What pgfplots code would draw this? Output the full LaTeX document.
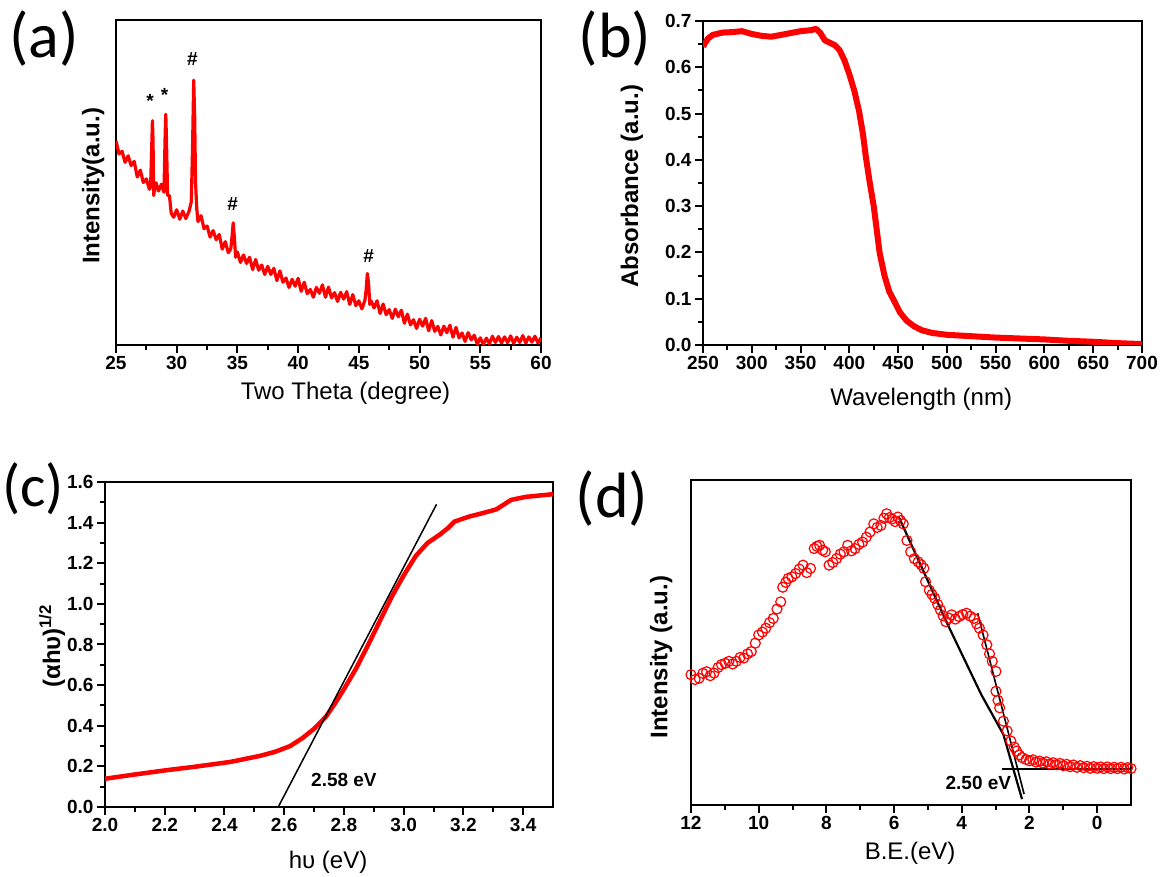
\documentclass[border=0pt]{standalone}
\usepackage{pgfplots}
\pgfplotsset{compat=1.18}
\usepackage{fontspec}
\setmainfont{Liberation Sans}
\newfontfamily\panelfont{Carlito}

\pgfplotsset{
  panel/.style={
    scale only axis, anchor=south west,
    axis line style={line width=2pt},
    tick align=outside, tick pos=left,
    major tick length=8pt, minor tick length=5pt,
    tick style={black, line width=2pt},
    minor tick num=1,
    tick label style={font=\fontsize{19}{19}\selectfont\bfseries},
    /pgf/number format/assume math mode=true,
    xlabel style={font=\fontsize{24}{24}\selectfont, anchor=center},
    ylabel style={font=\fontsize{24}{24}\selectfont\bfseries, anchor=center},
  }
}

\begin{document}
\begin{tikzpicture}[x=1pt,y=1pt]
\useasboundingbox (0,0) rectangle (1162,877);

% (a) XRD
\begin{axis}[panel, at={(116pt,532pt)}, width=425pt, height=325pt,
  xmin=25, xmax=60, ymin=0, ymax=100,
  xtick={25,30,35,40,45,50,55,60}, ytick=\empty,
  xlabel={Two Theta (degree)}, ylabel={Intensity(a.u.)},
  xlabel style={at={(axis description cs:0.54,-0.148)}},
  ylabel style={at={(axis description cs:-0.054,0.49)}},
]
\addplot[red, line width=3.2pt, line join=round] coordinates {
(25.00,62.8)(25.25,58.8)(25.50,59.6)(25.75,56.2)(26.00,58.2)(26.25,55.2)
(26.50,56.5)(26.75,51.7)(27.00,53.8)(27.25,50.0)(27.50,51.1)(27.75,47.9)
(27.85,49)(27.95,62)(28.00,69)(28.05,63)(28.10,46)(28.20,48.5)(28.30,49.9)
(28.50,47.4)(28.75,49.5)(28.95,47)(29.05,65)(29.10,71)(29.15,64)(29.25,46)
(29.40,46)(29.55,40.5)(29.75,39.3)(30.00,41.6)(30.25,38.7)(30.50,41.2)
(30.75,38.9)(31.00,41)(31.20,44)(31.30,60)(31.40,81.5)(31.48,70)(31.55,50)
(31.65,42)(31.75,38)(32.00,39.8)(32.25,35.8)(32.50,36.6)(32.75,33.2)
(33.00,35.2)(33.25,32.4)(33.50,34)(33.75,29.5)(34.00,31.8)(34.25,28.4)
(34.45,29.5)(34.55,33)(34.65,37.6)(34.75,33)(34.85,27)(35.00,28.6)
(35.25,25.4)(35.50,27.7)(35.75,25.1)(36.00,27)(36.25,23.2)(36.50,26.3)
(36.75,23)(37.00,24.6)(37.25,21.7)(37.50,24.2)(37.75,21.7)(38.00,23.6)
(38.25,19.8)(38.50,22.8)(38.75,19.3)(39.00,20.6)(39.25,17.7)(39.50,20.2)
(39.75,18.1)(40.00,20.5)(40.25,16.5)(40.50,19.3)(40.75,15.8)(41.00,17.1)
(41.25,14.7)(41.50,17.7)(41.75,15.9)(42.00,18.5)(42.25,14.7)(42.50,17.8)
(42.75,14.5)(43.00,16.1)(43.25,13.4)(43.50,16.2)(43.75,14.1)(44.00,16.4)
(44.25,12.5)(44.50,15.5)(44.75,12.1)(45.00,13.6)(45.25,11.1)(45.50,13.8)
(45.60,17)(45.70,22)(45.80,19)(45.90,12.5)(46.00,13.6)(46.25,11.4)
(46.50,13.6)(46.75,9.7)(47.00,12.6)(47.25,9.3)(47.50,10.9)(47.75,8.2)
(48.00,11)(48.25,8.7)(48.50,10.7)(48.75,6.7)(49.00,9.5)(49.25,6.2)
(49.50,7.8)(49.75,5.1)(50.00,7.9)(50.25,5.8)(50.50,8.2)(50.75,4.4)
(51.00,7.5)(51.25,4.2)(51.50,5.7)(51.75,3.1)(52.00,5.8)(52.25,3.8)
(52.50,6.1)(52.75,2.4)(53.00,5.4)(53.25,2.2)(53.50,3.7)(53.75,1.1)
(54.00,3.8)(54.25,1.6)(54.50,3.0)(54.75,0.3)(55.00,2.2)(55.25,0.2)
(55.50,2.1)(55.75,0.4)(56.00,2.7)(56.25,0.8)(56.50,2.6)(56.75,0.6)
(57.00,2.5)(57.25,0.7)(57.50,2.8)(57.75,0.5)(58.00,2.4)(58.25,0.8)
(58.50,2.9)(58.75,0.6)(59.00,2.5)(59.25,0.9)(59.50,2.7)(59.75,0.6)(60.00,2.2)
};
\node[font=\fontsize{19}{19}\selectfont\bfseries] at (axis cs:27.8,75) {*};
\node[font=\fontsize{19}{19}\selectfont\bfseries] at (axis cs:29.0,77) {*};
\node[font=\fontsize{19}{19}\selectfont\bfseries] at (axis cs:31.3,88) {\#};
\node[font=\fontsize{19}{19}\selectfont\bfseries] at (axis cs:34.6,43.5) {\#};
\node[font=\fontsize{19}{19}\selectfont\bfseries] at (axis cs:45.8,27.5) {\#};
\end{axis}

% (b) UV-vis absorbance
\begin{axis}[panel, at={(703pt,532pt)}, width=439pt, height=324pt,
  xmin=250, xmax=700, ymin=0, ymax=0.7,
  xtick={250,300,350,400,450,500,550,600,650,700},
  ytick={0,0.1,0.2,0.3,0.4,0.5,0.6,0.7},
  yticklabel style={/pgf/number format/.cd, fixed, fixed zerofill, precision=1},
  xlabel={Wavelength (nm)}, ylabel={Absorbance (a.u.)},
  xlabel style={at={(axis description cs:0.497,-0.168)}},
  ylabel style={at={(axis description cs:-0.162,0.49)}},
]
\addplot[red, line width=6pt, line join=round] coordinates {
(250,0.645)(255,0.662)(260,0.670)(270,0.675)(280,0.676)(290,0.678)
(300,0.672)(310,0.668)(320,0.666)(330,0.670)(340,0.674)(350,0.678)
(360,0.680)(366,0.683)(370,0.675)(375,0.658)(385,0.648)(390,0.637)
(395,0.615)(400,0.585)(405,0.550)(410,0.505)(414,0.455)(417,0.405)
(421,0.350)(425,0.300)(428,0.250)(431,0.200)(436,0.150)(441,0.115)
(446,0.095)(452,0.070)(459,0.052)(466,0.041)(474,0.032)(485,0.026)
(500,0.022)(525,0.019)(550,0.016)(575,0.014)(600,0.012)(625,0.009)
(650,0.007)(675,0.004)(700,0.002)
};
\end{axis}

% (c) Tauc plot
\begin{axis}[panel, at={(105pt,70pt)}, width=448pt, height=325pt,
  xmin=2, xmax=3.5, ymin=0, ymax=1.6,
  xtick={2.0,2.2,2.4,2.6,2.8,3.0,3.2,3.4},
  ytick={0,0.2,0.4,0.6,0.8,1.0,1.2,1.4,1.6},
  xticklabel style={/pgf/number format/.cd, fixed, fixed zerofill, precision=1},
  yticklabel style={/pgf/number format/.cd, fixed, fixed zerofill, precision=1},
  xlabel={hυ (eV)}, ylabel={(αhυ)\textsuperscript{1/2}},
  xlabel style={at={(axis description cs:0.498,-0.169)}},
  ylabel style={at={(axis description cs:-0.118,0.495)}},
]
\addplot[red, line width=4.5pt, line join=round] coordinates {
(2.00,0.139)(2.10,0.160)(2.20,0.180)(2.30,0.198)(2.42,0.222)(2.52,0.252)
(2.57,0.272)(2.62,0.300)(2.66,0.338)(2.70,0.385)(2.74,0.445)(2.77,0.510)
(2.80,0.580)(2.84,0.680)(2.88,0.795)(2.92,0.915)(2.96,1.035)(3.00,1.140)
(3.04,1.235)(3.08,1.300)(3.12,1.340)(3.15,1.375)(3.17,1.405)(3.22,1.430)
(3.26,1.445)(3.31,1.465)(3.36,1.512)(3.41,1.527)(3.50,1.540)
};
\addplot[black, line width=1.5pt] coordinates {(2.58,0) (3.11,1.49)};
\node[font=\fontsize{19}{19}\selectfont\bfseries] at (axis cs:2.80,0.135) {2.58 eV};
\end{axis}

% (d) valence band XPS
\begin{axis}[panel, at={(691pt,72pt)}, width=440pt, height=325pt,
  x dir=reverse, xmin=-1, xmax=12, ymin=0, ymax=100,
  xtick={0,2,4,6,8,10,12}, ytick=\empty,
  xlabel={B.E.(eV)}, ylabel={Intensity (a.u.)},
  xlabel style={at={(axis description cs:0.498,-0.148)}},
  ylabel style={at={(axis description cs:-0.068,0.455)}},
]
\addplot[red, only marks, mark=o, mark size=5pt, line width=1.2pt] coordinates {
(12.0,40.1)(11.88,38.6)(11.76,39)(11.65,40.5)(11.54,41)(11.43,39.8)(11.32,40.6)
(11.2,42.3)(11.1,43.2)(10.99,43.6)(10.88,44.2)(10.77,43.4)(10.66,44.2)(10.55,45.4)
(10.44,45.2)(10.33,46.5)(10.22,47.2)(10.1,49.8)(10.0,52.3)(9.89,53.2)(9.79,54.4)
(9.68,56.1)(9.57,57.4)(9.46,60.3)(9.35,62.5)(9.29,67)(9.2,68.5)(9.13,69.7)
(9.02,70.2)(8.91,71.2)(8.8,72.6)(8.69,73.8)(8.58,71.5)(8.47,72.8)
(8.36,78.9)(8.28,79.6)(8.2,79.9)(8.11,78.4)(8.03,77.9)(7.92,73.8)(7.81,74.6)
(7.7,75.8)(7.59,77.2)(7.48,77.9)(7.37,79.9)(7.26,78.2)(7.15,78.9)(7.04,80.2)
(6.93,80.9)(6.82,82.4)(6.71,84)(6.6,86.5)(6.5,85.4)(6.39,86)(6.3,88.2)
(6.22,89.6)(6.14,88.4)(6.06,88)(5.97,87.2)(5.89,88.6)(5.81,87.5)(5.73,86.5)
(5.62,81.4)(5.51,77.9)(5.4,75.8)(5.29,74.8)(5.2,73.9)(5.12,72.8)(5.07,68.7)
(4.96,66.1)(4.88,64.8)(4.8,63.6)(4.71,61.7)(4.63,60)(4.55,58.2)(4.47,56.4)
(4.38,57.5)(4.3,58.5)(4.19,57.2)(4.08,58)(3.97,58.6)(3.86,59)(3.75,58.1)(3.64,57.4)
(3.56,55.8)(3.48,54.4)(3.37,52.3)(3.26,49.3)(3.18,46.5)(3.1,44.2)(2.99,41.1)(2.99,35)
(2.93,32.2)(2.88,29.9)(2.77,25.8)(2.66,22.8)(2.55,19.7)(2.45,17.8)(2.38,16.6)(2.3,15.4)(2.22,14.6)
(2.1,14.0)(2.0,13.6)(1.9,13.9)(1.8,13.2)(1.7,13.5)(1.6,12.9)(1.5,13.3)
(1.4,12.6)(1.3,13.0)(1.2,12.4)(1.1,12.8)(1.0,12.1)(0.9,12.5)(0.8,11.8)
(0.7,12.3)(0.6,11.6)(0.5,12.1)(0.4,11.5)(0.3,11.9)(0.2,11.3)(0.1,11.8)
(0.0,11.3)(-0.1,11.7)(-0.2,11.2)(-0.3,11.7)(-0.4,11.2)(-0.5,11.6)
(-0.6,11.2)(-0.7,11.6)(-0.8,11.1)(-0.9,11.5)(-1.0,11.2)
};
\addplot[black, line width=2.2pt] coordinates {(5.86,88.6)(4.41,55.4)(3.42,33.9)(2.77,21.7)(2.22,1.8)};
\addplot[black, line width=1.6pt] coordinates {(3.53,59)(2.16,3.4)};
\addplot[black, line width=2.5pt] coordinates {(2.82,11.0)(-1.04,11.0)};
\node[font=\fontsize{19}{19}\selectfont\bfseries] at (axis cs:3.51,6.9) {2.50 eV};
\end{axis}

\node[font=\panelfont\fontsize{64}{64}\selectfont] at (44,838) {(a)};
\node[font=\panelfont\fontsize{64}{64}\selectfont] at (615,838) {(b)};
\node[font=\panelfont\fontsize{60}{60}\selectfont] at (33,388) {(c)};
\node[font=\panelfont\fontsize{64}{64}\selectfont] at (612,378) {(d)};
\end{tikzpicture}
\end{document}
